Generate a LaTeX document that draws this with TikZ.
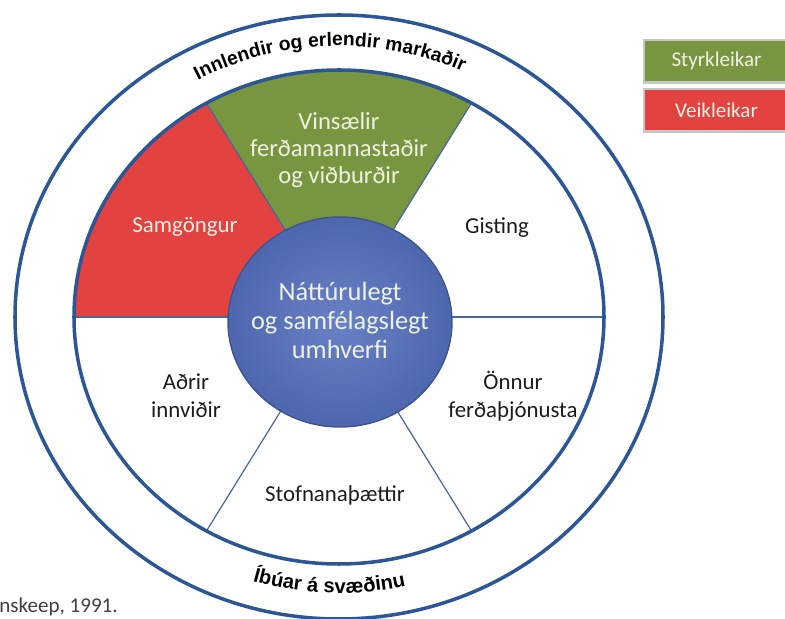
\documentclass[tikz,border=0pt]{standalone}
\usepackage{fontspec}
\setmainfont{Carlito}
\newfontfamily\ringfont{Liberation Sans}
\usetikzlibrary{decorations.text}

\definecolor{ringblue}{RGB}{44,86,150}
\definecolor{spokeblue}{RGB}{72,104,156}
\definecolor{strgreen}{RGB}{120,150,64}
\definecolor{weakred}{RGB}{226,66,64}
\definecolor{coreblue}{RGB}{84,112,190}
\definecolor{paletext}{RGB}{238,242,228}
\definecolor{darktext}{RGB}{28,28,28}

\tikzset{
  ring/.style={draw=ringblue, line width=2pt},
  spoke/.style={draw=spokeblue, line width=0.7pt},
  sectorlabel/.style={align=center, text=darktext, font=\fontsize{13}{16}\selectfont},
  filllabel/.style={sectorlabel, text=paletext},
  legendbox/.style={draw=black!22, line width=1.2pt, text=paletext,
    minimum width=2.9cm, minimum height=0.85cm, font=\fontsize{12}{14}\selectfont},
}

\begin{document}
\begin{tikzpicture}[x=0.02cm, y=0.02cm]
\useasboundingbox (0,0) rectangle (785,619);

% Legend
\node[legendbox, fill=strgreen, anchor=north west] (styrk) at (643,580) {Styrkleikar};
\node[legendbox, fill=weakred, anchor=north west] (veik) at (643,531) {Veikleikar};

% Source line, cut at the left edge
\node[anchor=base west, inner sep=0pt, text=black!75, font=\fontsize{12}{14}\selectfont] (heimild) at (-1,6) {nskeep, 1991.};

\begin{scope}[shift={(339,302)}]
% Coloured sectors
\fill[strgreen] (0,0) -- (60:265 and 247) arc[start angle=60, end angle=120, x radius=265, y radius=247] -- cycle;
\fill[weakred] (0,0) -- (120:265 and 247) arc[start angle=120, end angle=180, x radius=265, y radius=247] -- cycle;

% Sector borders
\draw[spoke] (0,0) -- (0:265 and 247);
\draw[spoke] (0,0) -- (60:265 and 247);
\draw[spoke] (0,0) -- (120:265 and 247);
\draw[spoke] (0,0) -- (180:265 and 247);
\draw[spoke] (0,0) -- (240:265 and 247);
\draw[spoke] (0,0) -- (300:265 and 247);

% Rings
\draw[ring] (0,0) ellipse[x radius=265, y radius=247];
\draw[ring] (0,0) ellipse[x radius=324, y radius=302];

% Core
\shade[inner color=coreblue!88!white, outer color=coreblue!92!black, draw=coreblue!75!black, line width=0.8pt]
  (1,-5) ellipse[x radius=112, y radius=105];
\node[align=center, text=paletext, font=\fontsize{15}{16.5}\selectfont] (umhverfi) at (1,-3)
  {Náttúrulegt\\og samfélagslegt\\umhverfi};

% Sector labels
\node[filllabel, font=\fontsize{14}{15.5}\selectfont] (vinsaelir) at (0,167) {Vinsælir\\ferðamannastaðir\\og viðburðir};
\node[filllabel] (samgongur) at (-154,90) {Samgöngur};
\node[sectorlabel] (gisting) at (158,89) {Gisting};
\node[sectorlabel] (innvidir) at (-153,-79) {Aðrir\\innviðir};
\node[sectorlabel] (thjonusta) at (174,-79) {Önnur\\ferðaþjónusta};
\node[sectorlabel] (stofnanir) at (-4,-178) {Stofnanaþættir};

% Texts in the outer ring
\path[decorate, decoration={text along path, text align=center,
  text={|\ringfont\bfseries\fontsize{11}{13}\selectfont|Innlendir og erlendir markaðir}}]
  (152:290 and 271) arc[start angle=152, end angle=32, x radius=290, y radius=271];
\path[decorate, decoration={text along path, text align=center,
  text={|\ringfont\bfseries\fontsize{11.5}{13}\selectfont|Íbúar á svæðinu}}]
  (228:296 and 276) arc[start angle=228, end angle=308, x radius=296, y radius=276];
\end{scope}
\end{tikzpicture}
\end{document}
